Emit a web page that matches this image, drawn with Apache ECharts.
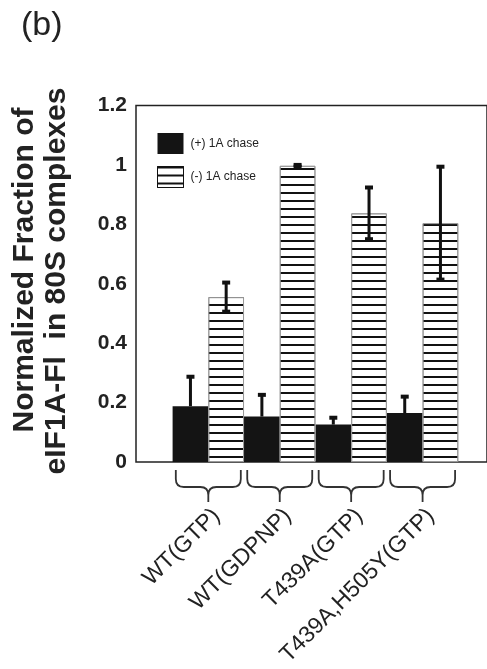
<!DOCTYPE html>
<html>
<head>
<meta charset="utf-8">
<script src="https://cdn.jsdelivr.net/npm/echarts@6/dist/echarts.min.js"></script>
<style>
  html, body { margin: 0; padding: 0; background: #fff; }
  #chart { width: 487px; height: 669px; }
</style>
</head>
<body>
<div id="chart"></div>
<script>
// values
const categories = ['WT(GTP)', 'WT(GDPNP)', 'T439A(GTP)', 'T439A,H505Y(GTP)']
const plusChase = [0.188, 0.153, 0.126, 0.165]
const plusChaseErr = [0.099, 0.073, 0.023, 0.055]
const minusChase = [0.555, 0.997, 0.837, 0.804]
const minusChaseErr = [0.049, 0.003, 0.087, 0.19]
const yMin = 0
const yMax = 1.2
const yStep = 0.2
const seriesNames = ['(+) 1A chase', '(-) 1A chase']

const FONT = '"Liberation Sans", Arial, Helvetica, sans-serif'
const INK = '#222'

const hatch = {
  symbol: 'rect',
  symbolSize: 1,
  dashArrayX: [1, 0],
  dashArrayY: [2, 6],
  color: '#111',
}

const chart = echarts.init(document.getElementById('chart'))

// error bar drawn from the library's coords; side -1 left bar, +1 right bar
const errorBar = (side, twoSided) => (params, api) => {
  const idx = api.value(0)
  const val = api.value(1)
  const err = api.value(2)
  const bw = api.size([1, 0])[0]
  const x = api.coord([idx, 0])[0] + side * bw / 4
  const yTop = api.coord([idx, val + err])[1]
  const yBot = api.coord([idx, twoSided ? val - err : val])[1]
  const children = [
    { type: 'line', shape: { x1: x, y1: yBot, x2: x, y2: yTop }, style: { stroke: '#111', lineWidth: 3 } },
    { type: 'rect', shape: { x: x - 4, y: yTop - 2, width: 8, height: 4 }, style: { fill: '#111' } },
  ]
  if (twoSided) {
    children.push({ type: 'rect', shape: { x: x - 4, y: yBot - 2, width: 8, height: 4 }, style: { fill: '#111' } })
  }
  return { type: 'group', children }
}

const brace = (params, api) => {
  const p = api.coord([api.value(0), 0])
  const bw = api.size([1, 0])[0]
  const hw = bw * 0.455
  const cx = p[0]
  const y0 = p[1] + 8
  const y1 = p[1] + 25
  const y2 = p[1] + 40
  const r = 8
  const l = cx - hw
  const rt = cx + hw
  const d = `M${l},${y0} L${l},${y1 - r} Q${l},${y1} ${l + r},${y1} L${cx - r},${y1} Q${cx},${y1} ${cx},${y1 + r} L${cx},${y2} ` +
    `M${cx},${y1 + r} Q${cx},${y1} ${cx + r},${y1} L${rt - r},${y1} Q${rt},${y1} ${rt},${y1 - r} L${rt},${y0}`
  return { type: 'path', shape: { pathData: d }, style: { stroke: '#333', fill: null, lineWidth: 1.8 } }
}

const option = {
  backgroundColor: '#fff',
  animation: false,
  textStyle: { fontFamily: FONT },
  grid: [
    { left: 136, right: -5, top: 105.5, bottom: 207, show: true, borderColor: INK, borderWidth: 1.5 },
    { left: 172.6, width: 285.7, top: 105.5, bottom: 207 },
    // labels only: sits a little right of the bars, as in the figure
    { left: 180.6, width: 285.7, top: 105.5, bottom: 207 },
  ],
  xAxis: [
    { gridIndex: 0, type: 'value', show: false },
    { gridIndex: 1, type: 'category', data: categories, axisLine: { show: false }, axisTick: { show: false }, axisLabel: { show: false } },
    {
      gridIndex: 2,
      type: 'category',
      data: categories,
      axisLine: { show: false },
      axisTick: { show: false },
      axisLabel: { rotate: 45, margin: 54, fontSize: 23, color: INK, fontFamily: FONT, interval: 0 },
    },
  ],
  yAxis: [
    {
      gridIndex: 0,
      type: 'value',
      min: yMin,
      max: yMax,
      interval: yStep,
      axisLine: { show: false },
      axisTick: { show: false },
      splitLine: { show: false },
      axisLabel: { fontSize: 21, fontWeight: 'bold', color: INK, margin: 9, fontFamily: FONT },
    },
    { gridIndex: 1, type: 'value', min: yMin, max: yMax, show: false },
    { gridIndex: 2, type: 'value', min: yMin, max: yMax, show: false },
  ],
  legend: {
    orient: 'vertical',
    left: 157,
    top: 133,
    padding: 0,
    itemWidth: 26,
    itemHeight: 21,
    itemGap: 12,
    selectedMode: false,
    textStyle: { fontSize: 12, color: INK, fontFamily: FONT, padding: [0, 0, 0, 2] },
    data: [
      { name: seriesNames[0], icon: 'rect' },
      { name: seriesNames[1], icon: 'rect', itemStyle: { borderColor: '#111', borderWidth: 1 } },
    ],
  },
  graphic: [
    { type: 'text', left: 21, top: 9, style: { text: '(b)', font: `34px ${FONT}`, fill: INK } },
    {
      type: 'text', x: 25, y: 270, rotation: Math.PI / 2,
      style: { text: 'Normalized Fraction of', font: `bold 30px ${FONT}`, fill: INK, align: 'center', verticalAlign: 'middle', textAlign: 'center', textVerticalAlign: 'middle' },
    },
    {
      type: 'text', x: 57, y: 281, rotation: Math.PI / 2,
      style: { text: 'eIF1A-Fl  in 80S complexes', font: `bold 30px ${FONT}`, fill: INK, align: 'center', verticalAlign: 'middle', textAlign: 'center', textVerticalAlign: 'middle' },
    },
  ],
  series: [
    {
      name: seriesNames[0],
      type: 'bar',
      xAxisIndex: 1,
      yAxisIndex: 1,
      data: plusChase,
      barGap: '0%',
      barCategoryGap: '0%',
      itemStyle: { color: '#141414' },
    },
    {
      name: seriesNames[1],
      type: 'bar',
      xAxisIndex: 1,
      yAxisIndex: 1,
      data: minusChase,
      barGap: '0%',
      barCategoryGap: '0%',
      itemStyle: { color: '#fff', borderColor: '#999', borderWidth: 1, decal: hatch },
    },
    {
      type: 'custom',
      xAxisIndex: 1,
      yAxisIndex: 1,
      renderItem: errorBar(-1, false),
      data: plusChase.map((v, i) => [i, v, plusChaseErr[i]]),
      z: 5,
      silent: true,
    },
    {
      type: 'custom',
      xAxisIndex: 1,
      yAxisIndex: 1,
      renderItem: errorBar(1, true),
      data: minusChase.map((v, i) => [i, v, minusChaseErr[i]]),
      z: 5,
      silent: true,
    },
    {
      type: 'custom',
      xAxisIndex: 1,
      yAxisIndex: 1,
      renderItem: brace,
      data: categories.map((c, i) => [i]),
      clip: false,
      silent: true,
    },
  ],
}

chart.setOption(option)
</script>
</body>
</html>
